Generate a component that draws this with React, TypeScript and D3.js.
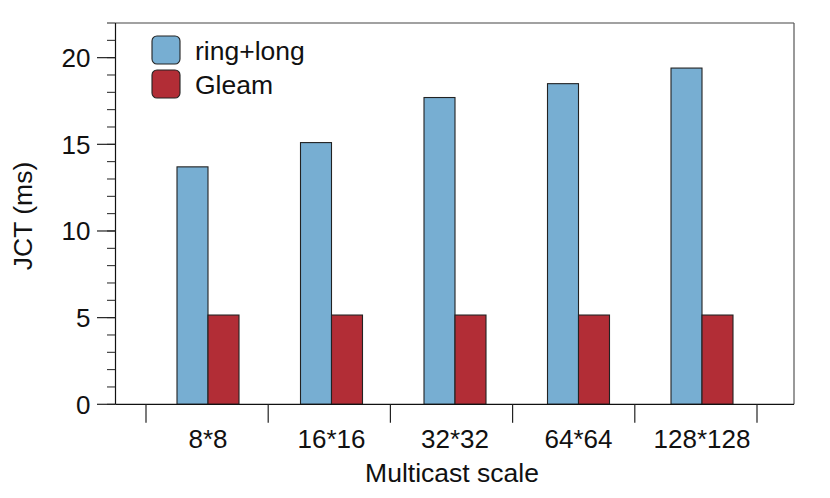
import React from "react";
import * as d3 from "d3";

const categories = ["8*8", "16*16", "32*32", "64*64", "128*128"];
const ringLong = [13.7, 15.1, 17.7, 18.5, 19.4];
const gleam = [5.15, 5.15, 5.15, 5.15, 5.15];
const seriesNames = ["ring+long", "Gleam"];
const seriesColors = ["#77AED2", "#B22D36"];
const yMajorTicks = [0, 5, 10, 15, 20];
const yMinorTicks = d3.range(0, 23, 1);

const W = 830;
const H = 498;
const left = 115.5;
const right = 794;
const top = 23;
const bottom = 404.3;
const FONT = "'Liberation Sans', Arial, Helvetica, sans-serif";

export default function App() {
  const y = d3.scaleLinear().domain([0, 22]).range([bottom, top]);
  const xCenter = d3.scaleLinear().domain([0, categories.length - 1]).range([208, 702]);
  const xSep = d3.scaleLinear().domain([0, categories.length]).range([146, 757]);
  const barW = 31;
  const series = [ringLong, gleam];

  return (
    <svg
      width={W}
      height={H}
      style={{ position: "absolute", left: 0, top: 0, background: "#fff" }}
      fontFamily={FONT}
    >
      {/* frame top & right */}
      <line x1={left} x2={right} y1={top} y2={top} stroke="#444" strokeWidth={1.2} />
      <line x1={right} x2={right} y1={top} y2={bottom} stroke="#555" strokeWidth={1.2} />

      {/* bars */}
      {categories.map((c, i) =>
        series.map((s, k) => (
          <rect
            key={c + k}
            x={xCenter(i) + (k === 0 ? -barW : 0)}
            y={y(s[i])}
            width={barW}
            height={bottom - y(s[i])}
            fill={seriesColors[k]}
            stroke="#222"
            strokeWidth={1.1}
          />
        ))
      )}

      {/* axes */}
      <line x1={left} x2={left} y1={top} y2={bottom} stroke="#111" strokeWidth={1.2} />
      <line x1={left} x2={right} y1={bottom} y2={bottom} stroke="#111" strokeWidth={1.2} />

      {/* y ticks */}
      {yMinorTicks.map((t) => (
        <line key={"m" + t} x1={left - 8.5} x2={left} y1={y(t)} y2={y(t)} stroke="#222" strokeWidth={1} />
      ))}
      {yMajorTicks.map((t) => (
        <g key={"M" + t}>
          <line x1={left - 18.5} x2={left} y1={y(t)} y2={y(t)} stroke="#222" strokeWidth={1.2} />
          <text x={90.5} y={y(t) + 9.3} textAnchor="end" fontSize={26} fill="#111">
            {t}
          </text>
        </g>
      ))}

      {/* x separators */}
      {d3.range(categories.length + 1).map((i) => (
        <line key={"s" + i} x1={xSep(i)} x2={xSep(i)} y1={bottom} y2={bottom + 18.5} stroke="#222" strokeWidth={1.2} />
      ))}
      {categories.map((c, i) => (
        <text key={"xl" + c} x={xCenter(i)} y={448.3} textAnchor="middle" fontSize={26} fill="#111">
          {c}
        </text>
      ))}

      {/* axis titles */}
      <text x={452} y={481.5} textAnchor="middle" fontSize={26.5} fill="#111">
        Multicast scale
      </text>
      <text
        transform={`translate(31.5, 216) rotate(-90)`}
        textAnchor="middle"
        fontSize={26.5}
        fill="#111"
      >
        JCT (ms)
      </text>

      {/* legend */}
      {seriesNames.map((n, k) => (
        <g key={"lg" + n}>
          <rect
            x={152}
            y={36 + k * 34}
            width={28}
            height={28}
            rx={5}
            fill={seriesColors[k]}
            stroke="#222"
            strokeWidth={1.1}
          />
          <text x={195} y={59.5 + k * 34} fontSize={26.5} fill="#111">
            {n}
          </text>
        </g>
      ))}
    </svg>
  );
}
